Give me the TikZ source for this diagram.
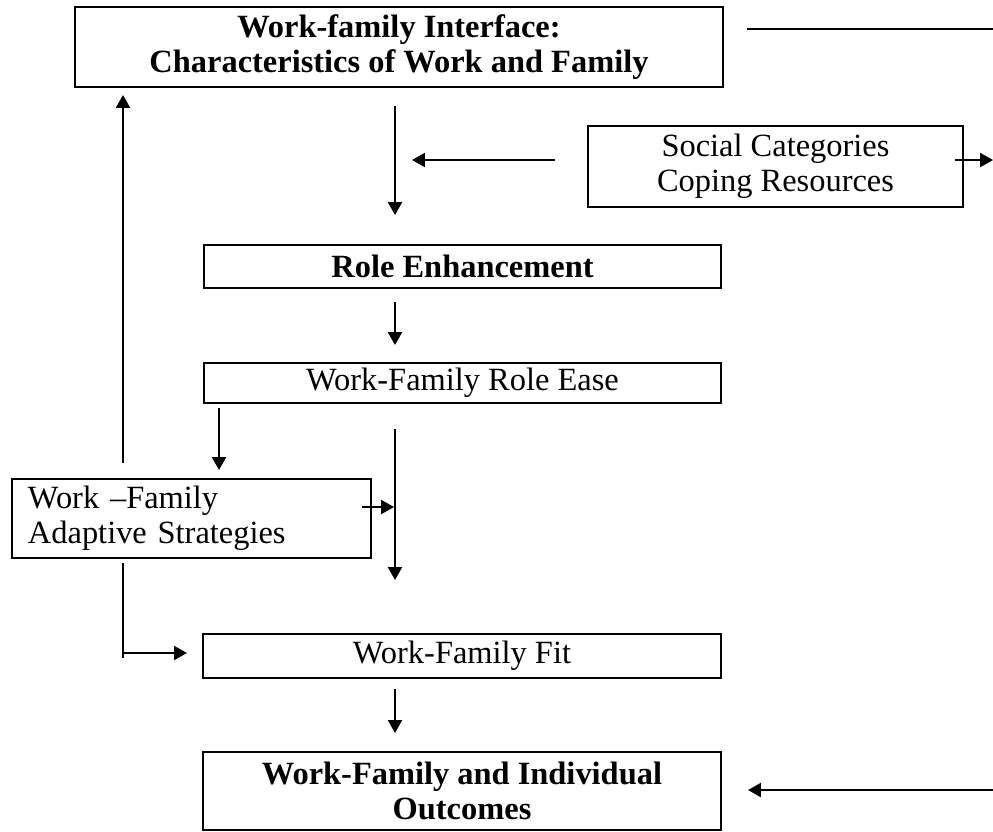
\documentclass[tikz,border=0pt]{standalone}
\usepackage{fontspec}
\setmainfont{Liberation Serif}
\usetikzlibrary{arrows.meta, positioning}
\tikzset{%
  >={Triangle[length=4.8pt,width=5.2pt]},
  % Specifications for style of nodes:
	base/.style = {draw, line width=1pt, align=center, inner sep=0pt,
	               font=\fontsize{12}{13}\selectfont},
	heading/.style = {base, font=\fontsize{12}{13}\selectfont\bfseries},
	plain/.style = {base},
	strategy/.style = {base, align=left, inner xsep=5.9pt, text width=121pt},
	coord/.style={coordinate},
	norm/.style={->, draw, black, line width=0.75pt},
	bare/.style={-, draw, black, line width=0.75pt},
}

\begin{document}
\begin{tikzpicture}[
    x=0.37pt, y=-0.37pt,        % one unit per pixel, y running downwards
    every join/.style={norm},   % Default linetype for connecting boxes
]
\useasboundingbox (0,0) rectangle (993,831);
  % Specification of nodes (position, etc.)
  \node (iface) [heading, minimum width=239.8pt, minimum height=29.6pt] at (399,47)
        {Work-family Interface:\\ Characteristics of Work and Family};
  \node (social) [plain, minimum width=138.8pt, minimum height=30pt] at (775.5,166.5)
        {Social Categories\\ Coping Resources};
  \node (enhance) [heading, minimum width=191.3pt, minimum height=15.9pt] at (462.5,266.5)
        {Role Enhancement};
  \node (ease) [plain, minimum width=191.3pt, minimum height=14.8pt] at (462.5,383)
        {Work-Family Role Ease};
  \node (adapt) [strategy, minimum width=132.8pt, minimum height=29.2pt] at (191.5,518.5)
        {Work –Family\\ Adaptive Strategies};
  \node (fit) [plain, minimum width=191.7pt, minimum height=16.3pt] at (462,656)
        {Work-Family Fit};
  \node (outcome) [heading, minimum width=191.7pt, minimum height=28.9pt] at (462,791)
        {Work-Family and Individual\\ Outcomes};

  % free ends of the connectors
  \node [coord] (t1) at (747,29) {};
  \node [coord] (t2) at (993,29) {};
  \node [coord] (a1) at (395,106) {};
  \node [coord] (a2) at (395,215) {};
  \node [coord] (s1) at (555,160) {};
  \node [coord] (s2) at (412,160) {};
  \node [coord] (s3) at (955,160) {};
  \node [coord] (s4) at (993,160) {};
  \node [coord] (e1) at (395,302) {};
  \node [coord] (e2) at (395,345) {};
  \node [coord] (r1) at (219,408) {};
  \node [coord] (r2) at (219,470) {};
  \node [coord] (u1) at (123,463) {};
  \node [coord] (u2) at (123,95) {};
  \node [coord] (v1) at (395,429) {};
  \node [coord] (v2) at (395,580) {};
  \node [coord] (h1) at (362,507) {};
  \node [coord] (h2) at (394,507) {};
  \node [coord] (d1) at (123,563) {};
  \node [coord] (d2) at (123,658) {};
  \node [coord] (d3) at (123,653) {};
  \node [coord] (d4) at (187,653) {};
  \node [coord] (f1) at (395,689) {};
  \node [coord] (f2) at (395,733) {};
  \node [coord] (o1) at (993,790) {};
  \node [coord] (o2) at (748,790) {};

  \draw [bare] (t1) -- (t2);
  \draw [norm] (a1) -- (a2);
  \draw [norm] (s1) -- (s2);
  \draw [norm] (s3) -- (s4);
  \draw [norm] (e1) -- (e2);
  \draw [norm] (r1) -- (r2);
  \draw [norm] (u1) -- (u2);
  \draw [norm] (v1) -- (v2);
  \draw [norm] (h1) -- (h2);
  \draw [bare] (d1) -- (d2);
  \draw [norm] (d3) -- (d4);
  \draw [norm] (f1) -- (f2);
  \draw [norm] (o1) -- (o2);
\end{tikzpicture}
\end{document}
